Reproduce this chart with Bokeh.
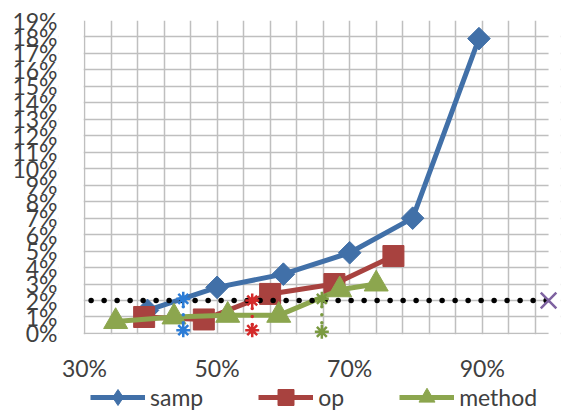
import math
from bokeh.plotting import figure
from bokeh.models import FixedTicker, PrintfTickFormatter, Range1d, Legend, LegendItem, BoxAnnotation
from bokeh.embed import file_html
from bokeh.resources import INLINE

# ---- data (percent units) ----
samp_x = [39.5, 50, 60, 70, 79.5, 89.5]
samp_y = [1.4, 2.8, 3.6, 4.9, 7.0, 17.9]
op_x = [39, 48, 58, 67.7, 76.6]
op_y = [1.0, 0.85, 2.4, 3.0, 4.7]
method_x = [34.7, 43.5, 51.6, 59.3, 68.5, 74.0]
method_y = [0.72, 1.0, 1.1, 1.1, 2.65, 3.0]
range_x = [44.9, 55.3, 65.8]
range_hi = [2.1, 2.0, 2.1]
range_lo = [0.2, 0.2, 0.1]
threshold_x = [31, 100]
threshold_y = [2.0, 2.0]
mark_x = [100]
mark_y = [2.0]
y_ticks = list(range(0, 20))
x_ticks = [30, 50, 70, 90]
x_grid = list(range(30, 100, 4))

BLUE = "#4170A8"
RED = "#A8423F"
GREEN = "#8CA64E"
RANGE_COLORS = ["#2C7CD6", "#D42A2A", "#7A9A40"]
FONT = "Lato"
TXT = "#404040"

# plotting area: 30 % sits at 84 px, 100 % at 548 px; 0 % at 333 px, 19 % at 20 px.
# The frame is larger (58..560 px, 20..414 px) so that the outer marks are not clipped.
p = figure(frame_width=502, frame_height=394, output_backend="svg", toolbar_location=None,
           x_range=Range1d(26.08, 101.8), y_range=Range1d(-4.92, 19),
           min_border_left=58, min_border_right=2, min_border_top=20, min_border_bottom=0)
p.outline_line_color = None
p.background_fill_color = "white"
p.border_fill_color = "white"

p.xgrid.ticker = FixedTicker(ticks=x_grid)
p.ygrid.ticker = FixedTicker(ticks=y_ticks)
for g in (p.xgrid, p.ygrid):
    g.grid_line_color = "#BFBFBF"
    g.grid_line_width = 1.5

# white masks so the grid only covers 30..100 % by 0..19 %
for kw in (dict(left=100),
           dict(right=x_grid[0] - 0.12),
           dict(top=y_ticks[0] - 0.05)):
    p.add_layout(BoxAnnotation(fill_color="white", fill_alpha=1.0, line_color=None,
                               level="underlay", **kw))

p.yaxis.ticker = FixedTicker(ticks=y_ticks)
p.xaxis.ticker = FixedTicker(ticks=x_ticks)
p.xaxis.fixed_location = 0
for ax in (p.xaxis, p.yaxis):
    ax.formatter = PrintfTickFormatter(format="%d%%")
    ax.axis_line_color = None
    ax.major_tick_line_color = None
    ax.minor_tick_line_color = None
    ax.major_tick_out = 0
    ax.major_tick_in = 0
    ax.major_label_text_font = FONT
    ax.major_label_text_font_size = "23px"
    ax.major_label_text_color = TXT
p.yaxis.major_label_standoff = 1
p.xaxis.major_label_standoff = 21

# series
l1 = p.line(samp_x, samp_y, line_width=5, color=BLUE)
s1_legend = p.scatter(samp_x, samp_y, marker="diamond", size=19, color=BLUE)
s1 = p.scatter(samp_x, samp_y, marker="square", angle=math.pi / 4, size=16, color=BLUE)
l2 = p.line(op_x, op_y, line_width=5, color=RED)
s2 = p.scatter(op_x, op_y, marker="square", size=21, color=RED)
l3 = p.line(method_x, method_y, line_width=5, color=GREEN)
s3 = p.scatter(method_x, method_y, marker="triangle", size=24, color=GREEN)

# threshold line
p.line(threshold_x, threshold_y, line_width=5.5, color="black", line_dash="0 13", line_cap="round")
p.scatter(mark_x, mark_y, marker="x", size=22, line_width=2.5, color="#7F63A1")

# ranges with asterisks
for i in range(len(range_x)):
    c = RANGE_COLORS[i]
    p.line([range_x[i], range_x[i]], [range_hi[i], range_lo[i]], line_width=3.5,
           color=c, line_dash="0 8", line_cap="round")
    p.scatter([range_x[i], range_x[i]], [range_hi[i], range_lo[i]], marker="asterisk",
              size=14, line_width=2.5, color=c)

legend = Legend(items=[LegendItem(label="samp", renderers=[l1, s1_legend]),
                       LegendItem(label="op", renderers=[l2, s2]),
                       LegendItem(label="method", renderers=[l3, s3])],
                orientation="horizontal", location=(32, -3))
legend.border_line_color = None
legend.background_fill_alpha = 0
legend.glyph_width = 55
legend.glyph_height = 40
legend.label_height = 40
legend.label_text_font = FONT
legend.label_text_font_size = "23px"
legend.label_text_color = TXT
legend.label_standoff = 5
legend.spacing = 55
legend.padding = 0
legend.margin = 0
p.add_layout(legend)

open("out.html", "w").write(file_html(p, INLINE))
